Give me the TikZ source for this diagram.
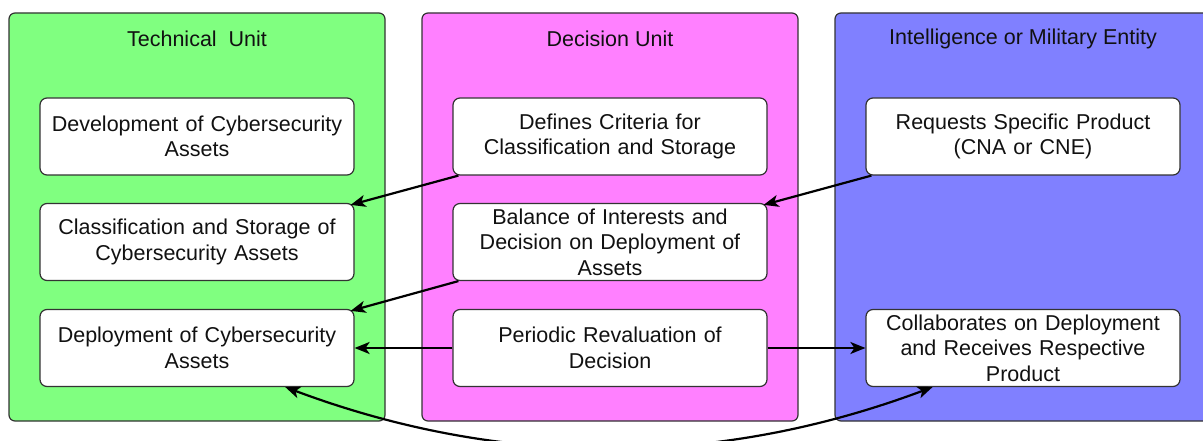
\documentclass[tikz,border=0pt]{standalone}
\usepackage{fontspec}
\setmainfont{Liberation Sans}
\usetikzlibrary{arrows.meta,calc}
\definecolor{techgreen}{HTML}{80FF80}
\definecolor{decpink}{HTML}{FF80FF}
\definecolor{intblue}{HTML}{8080FF}
\definecolor{edgegray}{HTML}{333333}
\definecolor{inkblack}{HTML}{111111}

\begin{document}
\begin{tikzpicture}[x=1pt,y=-1pt,
  lane/.style={draw=edgegray, line width=1.2pt, rounded corners=6pt, inner sep=0pt},
  lanetitle/.style={font=\fontsize{21.5}{25.5}\selectfont, text=inkblack, inner sep=0pt},
  task/.style={draw=edgegray, line width=1.2pt, fill=white, rounded corners=7pt,
    minimum width=314pt, minimum height=77pt, text width=306pt, align=center,
    inner sep=0pt, text=inkblack, font=\fontsize{21.5}{25.5}\selectfont},
  tip/.style={Stealth[length=15pt,width=12pt,inset=4pt]},
  flow/.style={line width=2.2pt, draw=black, -{Stealth[length=15pt,width=12pt,inset=4pt]}},
  twoway/.style={line width=2.2pt, draw=black, {Stealth[length=15pt,width=12pt,inset=4pt]}-{Stealth[length=15pt,width=12pt,inset=4pt]}},
]
\useasboundingbox (0,0) rectangle (1203,441);

% swimlanes
\node[lane, fill=techgreen, minimum width=376pt, minimum height=408pt] (techlane) at (197,217) {};
\node[lane, fill=decpink, minimum width=376pt, minimum height=408pt] (declane) at (610,217) {};
\node[lane, fill=intblue, minimum width=376pt, minimum height=408pt] (intlane) at (1023,217) {};

\node[lanetitle] (techtitle) at (197,39) {Technical\ \ Unit};
\node[lanetitle] (dectitle) at (610,39) {Decision Unit};
\node[lanetitle] (inttitle) at (1023,39) {Intelligence or Military Entity};

% technical unit
\node[task] (develop) at (197,136.5) {Development of Cybersecurity\\Assets};
\node[task] (classify) at (197,242) {Classification and Storage of\\Cybersecurity Assets};
\node[task] (deploy) at (197,348) {Deployment of Cybersecurity\\Assets};

% decision unit
\node[task] (criteria) at (610,136.5) {Defines Criteria for\\Classification and Storage};
\node[task] (balance) at (610,242) {Balance of Interests and\\Decision on Deployment of\\Assets};
\node[task] (review) at (610,348) {Periodic Revaluation of\\Decision};

% intelligence or military entity
\node[task] (request) at (1023,136.5) {Requests Specific Product\\(CNA or CNE)};
\node[task] (collab) at (1023,348) {Collaborates on Deployment\\and Receives Respective\\Product};

% connectors
\draw[flow] ([xshift=6pt]criteria.south west) -- ([xshift=-4pt,yshift=-2pt]classify.north east);
\draw[flow] ([xshift=6pt]request.south west) -- ([xshift=-4pt,yshift=-2pt]balance.north east);
\draw[flow] ([xshift=6pt]balance.south west) -- ([xshift=-4pt,yshift=-2pt]deploy.north east);
\draw[flow] (review.west) -- (deploy.east);
\draw[flow] (review.east) -- (collab.west);

\coordinate (deployfoot) at ($(deploy.south west)!0.78!(deploy.south east)$);
\coordinate (collabfoot) at ($(collab.south west)!0.213!(collab.south east)$);
\draw[twoway] (deployfoot) .. controls ($(deployfoot)+(216,81)$) and ($(collabfoot)+(-216,81)$) .. (collabfoot);
\end{tikzpicture}
\end{document}
